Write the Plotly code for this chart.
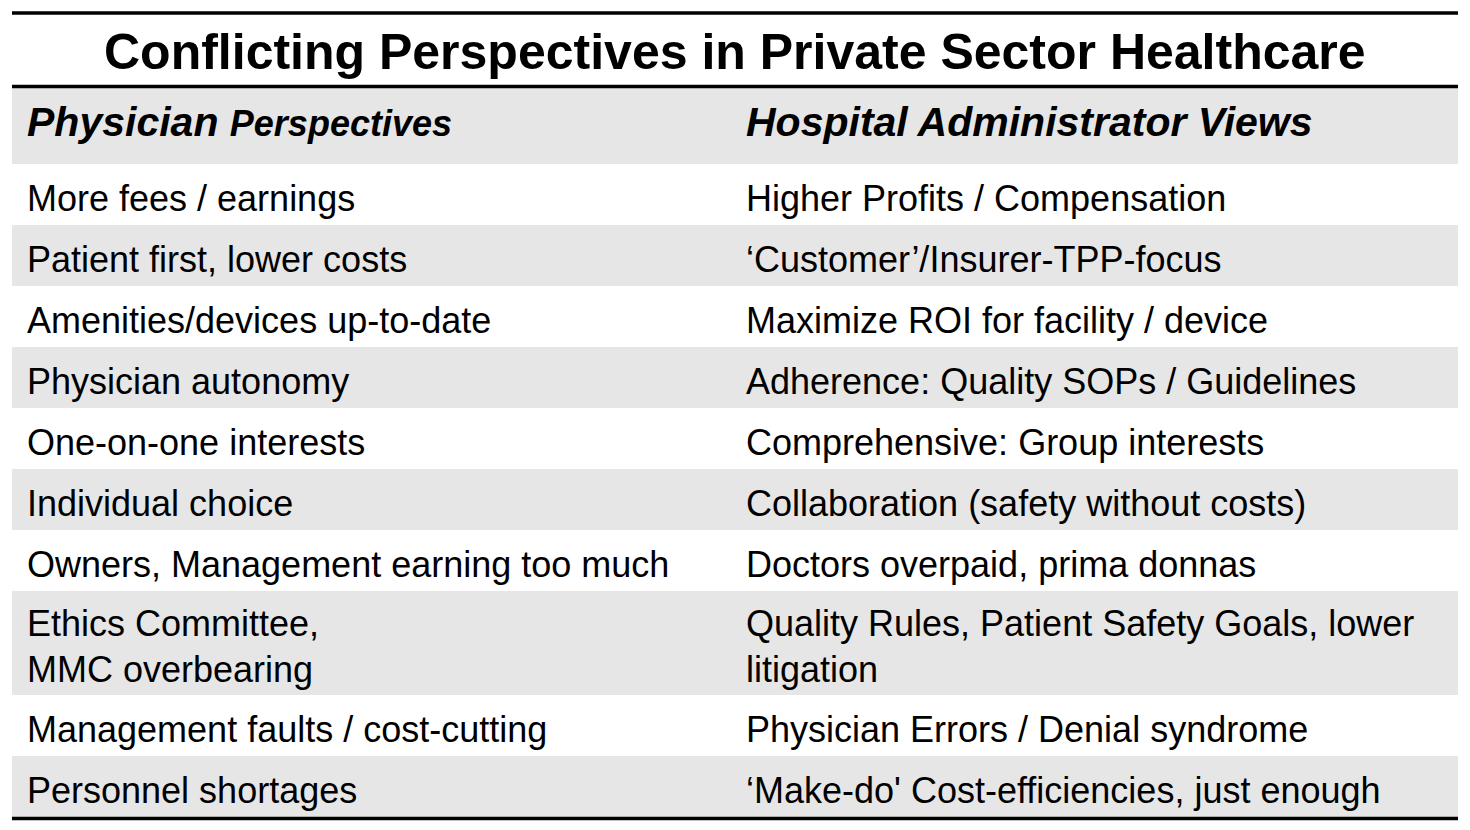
import plotly.graph_objects as go

TITLE = "Conflicting Perspectives in Private Sector Healthcare"
HEADERS = ["<b><i>Physician <span style='font-size:36px'>Perspectives</span></i></b>",
           "<b><i>Hospital Administrator Views</i></b>"]

physician = [
    "More fees / earnings",
    "Patient first, lower costs",
    "Amenities/devices up-to-date",
    "Physician autonomy",
    "One-on-one interests",
    "Individual choice",
    "Owners, Management earning too much",
    "Ethics Committee,<br>MMC overbearing",
    "Management faults / cost-cutting",
    "Personnel shortages",
]
administrator = [
    "Higher Profits / Compensation",
    "\u2018Customer\u2019/Insurer-TPP-focus",
    "Maximize ROI for facility / device",
    "Adherence: Quality SOPs / Guidelines",
    "Comprehensive: Group interests",
    "Collaboration (safety without costs)",
    "Doctors overpaid, prima donnas",
    "Quality Rules, Patient Safety Goals, lower<br>litigation",
    "Physician Errors / Denial syndrome",
    "\u2018Make-do' Cost-efficiencies, just enough",
]

W, H = 1470, 830
PAGE_PAD = 8               # default body margin of the html page
GREY = "#E6E6E6"
FONT = "Arial, Liberation Sans, Helvetica, sans-serif"
X0, X1 = 12, 1458          # table left / right edge (px)
COL_X = [27, 746]          # text start of each column
HEAD_TOP, HEAD_H = 88, 76
ROW_H, LINE_H = 61, 43
TEXT_DY = 7                # text sits a little below the band centre

# row geometry from the number of lines in each row
n_lines = [max(a.count("<br>"), b.count("<br>")) + 1
           for a, b in zip(physician, administrator)]
heights = [ROW_H + LINE_H * (k - 1) for k in n_lines]
centers, top = [], HEAD_TOP + HEAD_H
for h in heights:
    centers.append(top + h / 2)
    top += h
row_fill = ["white" if i % 2 == 0 else GREY for i in range(len(physician))]

fig = go.Figure()
# header band + alternating row bands
fig.add_trace(go.Bar(orientation="h", y=[HEAD_TOP + HEAD_H / 2] + centers,
                     x=[X1 - X0] * (len(centers) + 1), base=X0,
                     width=[HEAD_H] + heights,
                     marker=dict(color=[GREY] + row_fill, line=dict(width=0)),
                     hoverinfo="skip", showlegend=False))
# header text
fig.add_trace(go.Scatter(x=COL_X, y=[HEAD_TOP + HEAD_H / 2] * 2, text=HEADERS,
                         mode="text", textposition="middle right",
                         textfont=dict(family=FONT, size=41, color="black"),
                         hoverinfo="skip", showlegend=False))
# body text, one trace per column
for cx, col in zip(COL_X, [physician, administrator]):
    fig.add_trace(go.Scatter(x=[cx] * len(col), y=[c + TEXT_DY for c in centers],
                             text=col, mode="text", textposition="middle right",
                             textfont=dict(family=FONT, size=36, color="black"),
                             hoverinfo="skip", showlegend=False))

# rules above/below title and at table bottom
for y in (13, 86.5, top + 1.5):
    fig.add_shape(type="line", x0=X0, x1=X1, y0=y, y1=y,
                  line=dict(color="black", width=3.5), layer="above")

fig.add_annotation(text=f"<b>{TITLE}</b>", x=W / 2, y=52,
                   xanchor="center", yanchor="middle", showarrow=False,
                   font=dict(family=FONT, size=50, color="black"))

# axes in screen pixels, compensating for the page margin
fig.update_layout(width=W - 2 * PAGE_PAD, height=H - 2 * PAGE_PAD,
                  margin=dict(l=0, r=0, t=0, b=0),
                  paper_bgcolor="white", plot_bgcolor="white",
                  xaxis=dict(range=[PAGE_PAD, W - PAGE_PAD], visible=False, fixedrange=True),
                  yaxis=dict(range=[H - PAGE_PAD, PAGE_PAD], visible=False, fixedrange=True))
fig.write_html("out.html")
